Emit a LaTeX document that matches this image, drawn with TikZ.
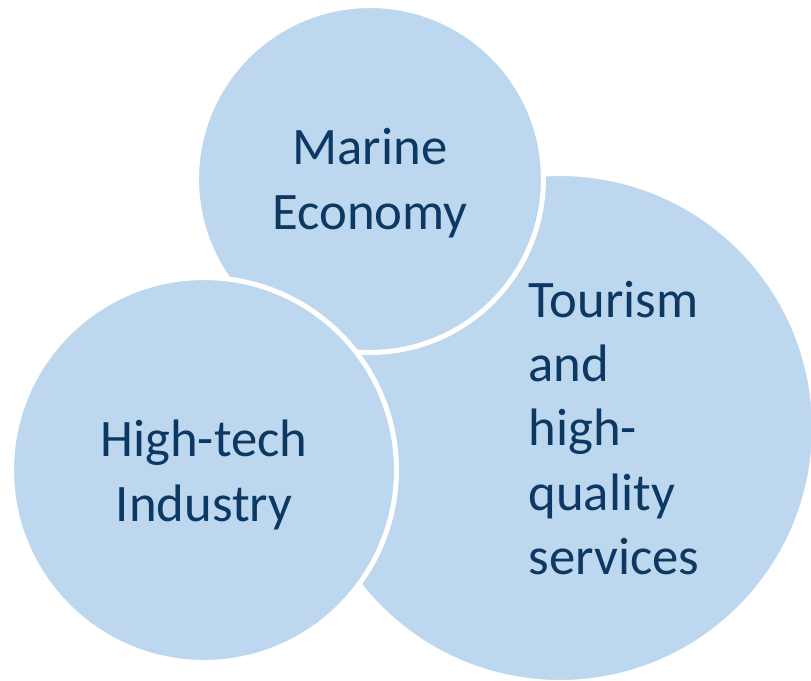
\documentclass[tikz,border=0pt]{standalone}
\usepackage{fontspec}
\setmainfont{Carlito}
\definecolor{bubblefill}{RGB}{189,215,238}
\definecolor{bubbleink}{RGB}{12,56,100}

\begin{document}
\begin{tikzpicture}[x=0.02cm, y=-0.02cm,
	bubble/.style={circle, draw=white, line width=0.1cm, fill=bubblefill, inner sep=0pt},
	txt/.style={text=bubbleink, font=\fontsize{30}{36.6}\selectfont, inner sep=0pt}]
	\useasboundingbox (0,0) rectangle (811,680);
	
	\node[bubble, minimum size=10.18cm](RC) at (560,428){};
	\node[bubble, minimum size=6.94cm](TC) at (370,179){};
	\node[bubble, minimum size=7.7cm](LC) at (204,470){};
	
	\node[txt, align=center, below of=TC, node distance=0.08cm](TT){Marine\\Economy};
	\node[txt, align=center, below of=LC, node distance=0.1cm](LT){High-tech\\Industry};
	\node[txt, align=left, right of=RC, node distance=1.08cm](RT){Tourism\\and\\high-\\quality\\services};
	
\end{tikzpicture}
\end{document}
